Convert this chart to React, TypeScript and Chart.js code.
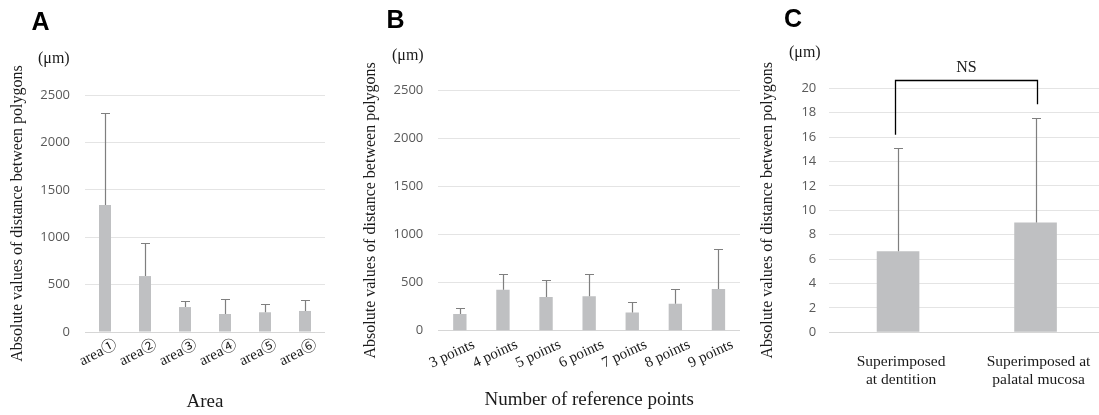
import React, { useEffect, useRef } from "react";
import { Chart, registerables } from "chart.js";

Chart.register(...registerables);

// ---------- Panel A ----------
const areaLabels = ["area①", "area②", "area③", "area④", "area⑤", "area⑥"];
const areaMeans = [1340, 590, 263, 190, 208, 222];
const areaSD = [965, 347, 68, 159, 91, 116];
const areaTicks = [0, 500, 1000, 1500, 2000, 2500];

// ---------- Panel B ----------
const pointLabels = ["3 points", "4 points", "5 points", "6 points", "7 points", "8 points", "9 points"];
const pointMeans = [173, 426, 350, 357, 190, 280, 433];
const pointSD = [62, 166, 180, 235, 111, 156, 412];
const pointTicks = [0, 500, 1000, 1500, 2000, 2500];

// ---------- Panel C ----------
const superLabels = [["Superimposed", "at dentition"], ["Superimposed at", "palatal mucosa"]];
const superMeans = [6.64, 8.99];
const superSD = [8.5, 8.58];
const superTicks = [0, 2, 4, 6, 8, 10, 12, 14, 16, 18, 20];
const nsText = "NS";
const nsBracket = [16.2, 20.7, 18.7]; // left end, top, right end (data units)

const yTitleText = "Absolute values of distance between polygons";
const unitText = "(μm)";

const SERIF = "'Liberation Serif', 'Times New Roman', 'Noto Sans CJK JP', serif";
const SANS = "'Open Sans', 'Noto Sans', sans-serif";
const BAR = "#bfc0c2";
const GRID = "#e4e4e4";
const ZERO = "#d6d6d6";
const ERR = "#7f7f7f";
const H = 415;

type Spec = {
  letter: string;
  left: number;
  width: number;
  area: { left: number; right: number; top: number; bottom: number };
  labels: any[];
  means: number[];
  sd: number[];
  ticks: number[];
  xTitle?: string;
  xTitlePad: number;
  yTitlePad: number;
  yTickPad: number;
  rotation: number;
  xTickPad: number;
  xTickFont: number;
  xLineHeight: number;
  xLabelOffset: number;
  barPct: number;
  letterPos: [number, number];
  unitPos: [number, number];
  bracket?: number[];
};

const specs: Spec[] = [
  {
    letter: "A",
    left: 0,
    width: 345,
    area: { left: 85, right: 325, top: 95, bottom: 332 },
    labels: areaLabels,
    means: areaMeans,
    sd: areaSD,
    ticks: areaTicks,
    xTitle: "Area",
    xTitlePad: 2,
    yTitlePad: 8.4,
    yTickPad: 15,
    rotation: 27,
    xTickPad: 4,
    xTickFont: 15,
    xLineHeight: 1.2,
    xLabelOffset: 11,
    barPct: 0.3,
    letterPos: [31.5, 30],
    unitPos: [38, 62.5],
  },
  {
    letter: "B",
    left: 355,
    width: 395,
    area: { left: 83.3, right: 385, top: 90, bottom: 330.7 },
    labels: pointLabels,
    means: pointMeans,
    sd: pointSD,
    ticks: pointTicks,
    xTitle: "Number of reference points",
    xTitlePad: 3.6,
    yTitlePad: 6.4,
    yTickPad: 15,
    rotation: 25,
    xTickPad: 5,
    xTickFont: 15,
    xLineHeight: 1.2,
    xLabelOffset: 14,
    barPct: 0.31,
    letterPos: [31.5, 28.3],
    unitPos: [37, 60],
  },
  {
    letter: "C",
    left: 755,
    width: 360,
    area: { left: 74.3, right: 349.3, top: 88.3, bottom: 332.3 },
    labels: superLabels,
    means: superMeans,
    sd: superSD,
    ticks: superTicks,
    xTitlePad: 0,
    yTitlePad: 3.4,
    yTickPad: 13,
    rotation: 0,
    xTickPad: 20.4,
    xTickFont: 15.5,
    xLineHeight: 1.16,
    xLabelOffset: 3,
    barPct: 0.31,
    letterPos: [29, 26.7],
    unitPos: [34, 57],
    bracket: nsBracket,
  },
];

function makeErrorBars(sd: number[]) {
  return {
    id: "errorBars",
    afterDatasetsDraw(chart: any) {
      const { ctx } = chart;
      const meta = chart.getDatasetMeta(0);
      const ys = chart.scales.y;
      const vals = chart.data.datasets[0].data as number[];
      ctx.save();
      ctx.strokeStyle = ERR;
      ctx.lineWidth = 1.2;
      meta.data.forEach((el: any, i: number) => {
        const x = Math.round(el.x) + 0.5;
        const yTop = Math.round(ys.getPixelForValue(vals[i] + sd[i])) + 0.5;
        ctx.beginPath();
        ctx.moveTo(x, el.y);
        ctx.lineTo(x, yTop);
        ctx.moveTo(x - 4.5, yTop);
        ctx.lineTo(x + 4.5, yTop);
        ctx.stroke();
      });
      ctx.restore();
    },
  };
}

function makePanelText(spec: Spec) {
  return {
    id: "panelText",
    afterDraw(chart: any) {
      const { ctx } = chart;
      ctx.save();
      ctx.fillStyle = "#000";
      ctx.textAlign = "left";
      ctx.textBaseline = "alphabetic";
      ctx.font = "bold 25px 'Liberation Sans', Arial, sans-serif";
      ctx.fillText(spec.letter, spec.letterPos[0], spec.letterPos[1]);
      ctx.fillStyle = "#1a1a1a";
      ctx.font = `16px ${SERIF}`;
      ctx.fillText(unitText, spec.unitPos[0], spec.unitPos[1]);
      if (spec.bracket) {
        const xs = chart.scales.x;
        const ys = chart.scales.y;
        const x0 = Math.round(xs.getPixelForValue(0) - 3) + 0.5;
        const x1 = Math.round(xs.getPixelForValue(1) + 1.5) + 0.5;
        const yl = ys.getPixelForValue(spec.bracket[0]);
        const yt = Math.round(ys.getPixelForValue(spec.bracket[1])) + 0.5;
        const yr = ys.getPixelForValue(spec.bracket[2]);
        ctx.strokeStyle = "#000";
        ctx.lineWidth = 1.3;
        ctx.beginPath();
        ctx.moveTo(x0, yl);
        ctx.lineTo(x0, yt);
        ctx.lineTo(x1, yt);
        ctx.lineTo(x1, yr);
        ctx.stroke();
        ctx.fillStyle = "#1a1a1a";
        ctx.textAlign = "center";
        ctx.textBaseline = "middle";
        ctx.font = `16px ${SERIF}`;
        ctx.fillText(nsText, (x0 + x1) / 2, yt - 13);
      }
      ctx.restore();
    },
  };
}

function buildChart(canvas: HTMLCanvasElement, p: Spec) {
  return new Chart(canvas, {
    type: "bar",
    data: {
      labels: p.labels,
      datasets: [
        {
          data: p.means,
          backgroundColor: BAR,
          borderWidth: 0,
          barPercentage: p.barPct,
          categoryPercentage: 1,
        },
      ],
    },
    options: {
      animation: false,
      responsive: false,
      maintainAspectRatio: false,
      events: [],
      layout: {
        padding: { left: 0, top: p.area.top, right: p.width - p.area.right, bottom: 0 },
      },
      plugins: {
        legend: { display: false },
        tooltip: { enabled: false },
        title: { display: false },
      },
      scales: {
        x: {
          type: "category",
          offset: true,
          grid: { display: false, drawTicks: false },
          border: { display: false },
          ticks: {
            autoSkip: false,
            minRotation: p.rotation,
            maxRotation: p.rotation,
            padding: p.xTickPad,
            labelOffset: p.xLabelOffset,
            color: "#1a1a1a",
            font: { family: SERIF, size: p.xTickFont, lineHeight: p.xLineHeight },
          },
          title: p.xTitle
            ? {
                display: true,
                text: p.xTitle,
                color: "#1a1a1a",
                font: { family: SERIF, size: 19 },
                padding: { top: 0, bottom: p.xTitlePad },
              }
            : { display: false },
          afterFit: (s: any) => {
            s.height = H - p.area.bottom;
          },
        },
        y: {
          type: "linear",
          min: 0,
          max: p.ticks[p.ticks.length - 1],
          afterBuildTicks: (s: any) => {
            s.ticks = p.ticks.map((v) => ({ value: v }));
          },
          grid: {
            color: (c: any) => (c.tick && c.tick.value === 0 ? ZERO : GRID),
            drawTicks: false,
            lineWidth: 1,
          },
          border: { display: false },
          ticks: {
            padding: p.yTickPad,
            color: "#595959",
            font: { family: SANS, size: 13 },
            callback: (v: any) => String(v),
          },
          title: {
            display: true,
            text: yTitleText,
            color: "#1a1a1a",
            font: { family: SERIF, size: 16 },
            padding: { top: p.yTitlePad, bottom: 0 },
          },
          afterFit: (s: any) => {
            s.width = p.area.left;
          },
        },
      },
    } as any,
    plugins: [makeErrorBars(p.sd), makePanelText(p)],
  });
}

function Panel({ spec }: { spec: Spec }) {
  const ref = useRef<HTMLCanvasElement>(null);
  useEffect(() => {
    const chart = buildChart(ref.current as HTMLCanvasElement, spec);
    return () => chart.destroy();
  }, [spec]);
  return (
    <canvas
      ref={ref}
      width={spec.width}
      height={H}
      style={{ position: "absolute", left: spec.left, top: 0, width: spec.width, height: H }}
    />
  );
}

export default function App() {
  return (
    <div
      style={{
        position: "fixed",
        left: 0,
        top: 0,
        width: 1099,
        height: H,
        overflow: "hidden",
        background: "#ffffff",
      }}
    >
      {specs.map((s) => (
        <Panel key={s.letter} spec={s} />
      ))}
    </div>
  );
}
